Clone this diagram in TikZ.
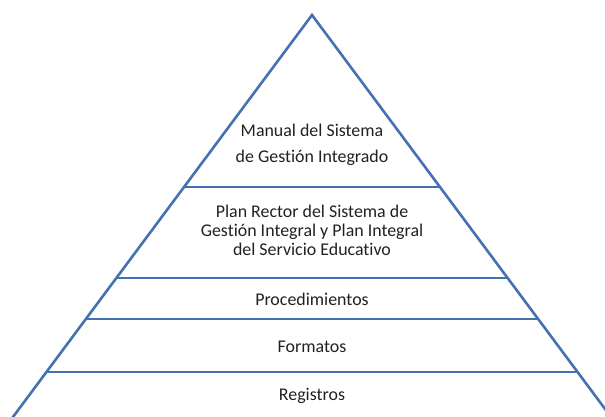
\documentclass[tikz,border=0pt]{standalone}
\usepackage{fontspec}
\setmainfont[Ligatures={NoCommon}]{Carlito}
\definecolor{pyrblue}{RGB}{68,114,176}
\definecolor{txt}{RGB}{35,32,30}
\begin{document}
\begin{tikzpicture}[x=1pt,y=-1pt,
  edge/.style={draw=pyrblue,line width=2.6pt},
  lbl/.style={text=txt,font=\fontsize{17.9}{19}\selectfont,align=center,inner sep=0pt,anchor=base}]
\useasboundingbox (0,0) rectangle (605,417);
\begin{scope}
\clip (0,0) rectangle (605,417);
\coordinate (apex) at (312,15);
\coordinate (bl) at (10,421);
\coordinate (br) at (614,421);
\draw[edge,line join=miter] (bl) -- (apex) -- (br);
\foreach \y/\n in {187/a,278/b,319/c,372/d}{
  \path (apex) -- (bl) coordinate[pos={(\y-15)/406}] (l\n);
  \path (apex) -- (br) coordinate[pos={(\y-15)/406}] (r\n);
  \draw[edge] (l\n) -- (r\n);
}
\end{scope}
\node[lbl,font=\fontsize{17.9}{25}\selectfont] (manual) at (312,162) {Manual del Sistema\\de Gestión Integrado};
\node[lbl] (plan) at (312,255) {Plan Rector del Sistema de\\Gestión Integral y Plan Integral\\del Servicio Educativo};
\node[lbl] (proc) at (312,305) {Procedimientos};
\node[lbl] (form) at (312,352) {Formatos};
\node[lbl] (reg) at (312,400) {Registros};
\end{tikzpicture}
\end{document}
